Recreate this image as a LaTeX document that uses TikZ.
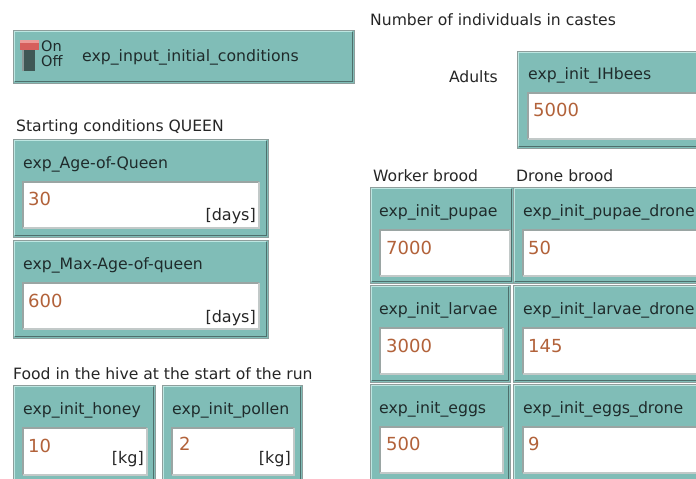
\documentclass[tikz,border=0pt]{standalone}
\usepackage{fontspec}
\setmainfont{DejaVu Sans}
\definecolor{wteal}{HTML}{80BDB7}
\definecolor{whl}{HTML}{BDE6E1}
\definecolor{wsh}{HTML}{4E6F6C}
\definecolor{wfr}{HTML}{8E9E9C}
\definecolor{wlab}{HTML}{1F2B2B}
\definecolor{wval}{HTML}{B2623A}
\definecolor{wfb}{HTML}{9AA5A3}
\definecolor{wred}{HTML}{D65F5C}
\definecolor{wredl}{HTML}{EC9A97}
\definecolor{wstem}{HTML}{3F5855}
\newcommand\mywidget[4]{%
  \fill[wteal] (#1,#2) rectangle (#3,#4);
  \draw[whl,line width=1.6] (#1+1.6,#4-1.6) -- (#1+1.6,#2+1.6) -- (#3-1.6,#2+1.6);
  \draw[wsh,line width=1.6] (#3-1.6,#2+1.6) -- (#3-1.6,#4-1.6) -- (#1+1.6,#4-1.6);
  \draw[wfr,line width=0.8] (#1,#2) rectangle (#3,#4);
}
\newcommand\myfield[4]{%
  \fill[white] (#1,#2) rectangle (#3,#4);
  \draw[wfb,line width=1.2] (#1,#4) -- (#1,#2) -- (#3,#2);
  \draw[wfb!60,line width=1.2] (#3,#2) -- (#3,#4) -- (#1,#4);
}
\tikzset{
  base/.style={inner sep=0pt, text height=0.95em, text depth=0em},
  lbl/.style={base, anchor=west, yshift=-3pt, font=\fontsize{15.7}{18}\selectfont, text=wlab},
  hd/.style={base, anchor=west, yshift=-2.5pt, font=\fontsize{15.6}{18}\selectfont, text=black!85},
  vl/.style={base, anchor=west, yshift=-4pt, font=\fontsize{18}{20}\selectfont, text=wval},
  unit/.style={base, anchor=east, yshift=-2pt, font=\fontsize{16}{18}\selectfont, text=black!85},
  onoff/.style={base, anchor=west, yshift=-1.5pt, font=\fontsize{14.5}{15}\selectfont, text=wlab},
}
\begin{document}
\begin{tikzpicture}[x=1pt,y=-1pt]
\useasboundingbox (0,0) rectangle (696,479);
\fill[white] (0,0) rectangle (696,479);
\clip (0,0) rectangle (696,479);

% switch
\mywidget{13}{30}{354}{83}
\fill[wstem] (22,49) rectangle (35,71);
\fill[wstem!60!white] (22,49) rectangle (24,71);
\fill[wred] (20,40) rectangle (39,50);
\fill[wredl] (20,40) rectangle (39,43);
\node[onoff] (on) at (41,45) {On};
\node[onoff] (off) at (41,60) {Off};
\node[lbl] (sw) at (82,54) {exp\_input\_initial\_conditions};

% queen
\node[hd] (hq) at (16,124) {Starting conditions QUEEN};
\mywidget{13}{139}{268}{237}
\myfield{23}{182}{259}{228}
\node[lbl] (lq1) at (23,161) {exp\_Age-of-Queen};
\node[vl] (vq1) at (28,197) {30};
\node[unit] (uq1) at (256,214) {[days]};
\mywidget{13}{240}{268}{338}
\myfield{23}{283}{259}{329}
\node[lbl] (lq2) at (23,262) {exp\_Max-Age-of-queen};
\node[vl] (vq2) at (28,299) {600};
\node[unit] (uq2) at (256,316) {[days]};

% food
\node[hd] (hf) at (13,372) {Food in the hive at the start of the run};
\mywidget{13}{385}{155}{490}
\myfield{23}{428}{147}{475}
\node[lbl] (lh) at (23,407) {exp\_init\_honey};
\node[vl] (vh) at (28,444) {10};
\node[unit] (uh) at (144,457) {[kg]};
\mywidget{162}{385}{302}{490}
\myfield{172}{428}{294}{475}
\node[lbl] (lp) at (172,407) {exp\_init\_pollen};
\node[vl] (vp) at (179,442) {2};
\node[unit] (up) at (291,457) {[kg]};

% castes
\node[hd] (hc) at (370,18) {Number of individuals in castes};
\node[hd,anchor=east] (ha) at (498,75) {Adults};
\mywidget{517}{51}{705}{148}
\myfield{528}{93}{705}{139}
\node[lbl] (lih) at (528,72) {exp\_init\_IHbees};
\node[vl] (vih) at (533,108) {5000};

\node[hd] (hw) at (373,174) {Worker brood};
\node[hd] (hd) at (516,174) {Drone brood};

\mywidget{370}{187}{513}{283}
\myfield{380}{230}{510}{276}
\node[lbl] (lpu) at (379,209) {exp\_init\_pupae};
\node[vl] (vpu) at (386,246) {7000};
\mywidget{513}{187}{705}{283}
\myfield{523}{230}{705}{276}
\node[lbl] (lpud) at (523,209) {exp\_init\_pupae\_drone};
\node[vl] (vpud) at (528,246) {50};

\mywidget{370}{285}{510}{382}
\myfield{380}{328}{503}{374}
\node[lbl] (lla) at (379,307) {exp\_init\_larvae};
\node[vl] (vla) at (386,344) {3000};
\mywidget{513}{285}{705}{382}
\myfield{523}{328}{705}{374}
\node[lbl] (llad) at (523,307) {exp\_init\_larvae\_drone};
\node[vl] (vlad) at (528,344) {145};

\mywidget{370}{384}{510}{490}
\myfield{380}{427}{503}{473}
\node[lbl] (leg) at (379,406) {exp\_init\_eggs};
\node[vl] (veg) at (386,442) {500};
\mywidget{513}{384}{705}{490}
\myfield{523}{427}{705}{473}
\node[lbl] (legd) at (523,406) {exp\_init\_eggs\_drone};
\node[vl] (vegd) at (528,442) {9};
\end{tikzpicture}
\end{document}
